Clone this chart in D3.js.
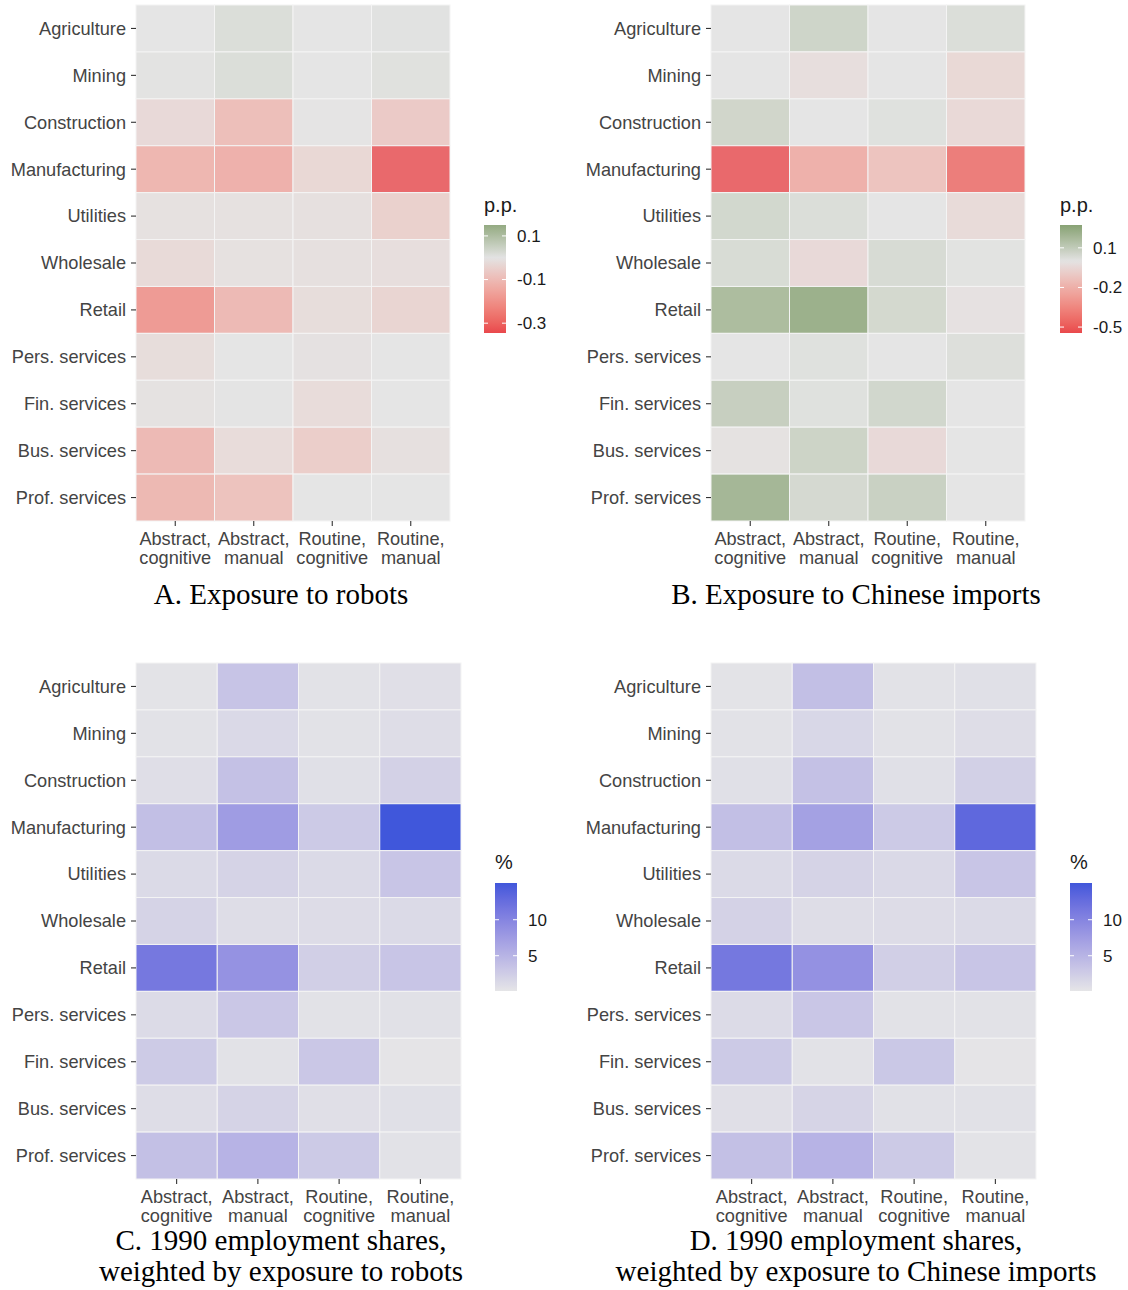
<!DOCTYPE html>
<html>
<head>
<meta charset="utf-8">
<script src="https://cdn.jsdelivr.net/npm/d3@7"></script>
<style>
  html, body { margin: 0; padding: 0; background: #ffffff; }
  svg { display: block; }
</style>
</head>
<body>
<svg id="chart" width="1128" height="1290"></svg>
<script>
// ---------------- DATA ----------------
const sectors = ["Agriculture", "Mining", "Construction", "Manufacturing", "Utilities",
  "Wholesale", "Retail", "Pers. services", "Fin. services", "Bus. services", "Prof. services"];
const tasks = ["Abstract, cognitive", "Abstract, manual", "Routine, cognitive", "Routine, manual"];
const taskLines = [["Abstract,", "cognitive"], ["Abstract,", "manual"], ["Routine,", "cognitive"], ["Routine,", "manual"]];

// A. Exposure to robots (p.p.), rows = sectors, columns = tasks
const robotsPP = [
  [0.000, 0.022, 0.000, 0.008],
  [0.004, 0.022, 0.000, 0.012],
  [-0.035, -0.115, -0.002, -0.080],
  [-0.140, -0.155, -0.040, -0.345],
  [-0.012, -0.012, -0.015, -0.062],
  [-0.033, -0.012, -0.015, -0.020],
  [-0.220, -0.130, -0.025, -0.050],
  [-0.025, 0.000, -0.010, 0.000],
  [-0.008, 0.002, -0.028, 0.000],
  [-0.130, -0.028, -0.070, -0.015],
  [-0.135, -0.104, 0.000, 0.000]
];
// B. Exposure to Chinese imports (p.p.)
const chinaPP = [
  [0.000, 0.083, 0.000, 0.035],
  [0.000, -0.030, 0.000, -0.060],
  [0.075, 0.000, 0.020, -0.057],
  [-0.545, -0.247, -0.160, -0.470],
  [0.067, 0.035, 0.000, -0.048],
  [0.047, -0.053, 0.050, 0.010],
  [0.210, 0.273, 0.063, -0.018],
  [0.000, 0.020, 0.000, 0.028],
  [0.110, 0.020, 0.070, 0.000],
  [-0.012, 0.087, -0.053, 0.000],
  [0.237, 0.060, 0.100, 0.000]
];
// C. 1990 employment shares, weighted by exposure to robots (%)
const robotsShare = [
  [0.3, 3.4, 0.4, 0.7],
  [0.4, 1.3, 0.4, 0.9],
  [0.8, 3.7, 0.6, 2.1],
  [3.9, 7.5, 2.8, 15.1],
  [1.2, 1.9, 1.2, 3.3],
  [1.9, 0.9, 1.0, 1.2],
  [11.3, 8.5, 2.3, 3.3],
  [1.1, 3.1, 0.4, 0.5],
  [2.7, 0.4, 3.1, 0.15],
  [0.9, 1.9, 0.7, 0.6],
  [3.8, 5.1, 2.8, 0.4]
];
// D. 1990 employment shares, weighted by exposure to Chinese imports (%)
const chinaShare = [
  [0.3, 3.9, 0.4, 0.6],
  [0.4, 1.5, 0.4, 0.9],
  [0.6, 3.7, 0.6, 2.2],
  [3.9, 7.0, 2.8, 13.1],
  [1.2, 1.9, 1.3, 3.3],
  [2.0, 0.9, 1.0, 1.2],
  [11.4, 8.6, 2.3, 3.3],
  [1.1, 3.2, 0.4, 0.4],
  [2.8, 0.4, 3.0, 0.15],
  [0.7, 1.8, 0.5, 0.5],
  [3.8, 5.1, 2.8, 0.3]
];

// Legend limits and breaks
const limitsRobotsPP = [-0.345, 0.15];
const limitsChinaPP = [-0.545, 0.273];
const limitsShare = [0.1, 15.1];
const ticksRobotsPP = [0.1, -0.1, -0.3];
const ticksChinaPP = [0.1, -0.2, -0.5];
const ticksShare = [5, 10];

const titleA = ["A. Exposure to robots"];
const titleB = ["B. Exposure to Chinese imports"];
const titleC = ["C. 1990 employment shares,", "weighted by exposure to robots"];
const titleD = ["D. 1990 employment shares,", "weighted by exposure to Chinese imports"];

// ---------------- COLOUR SCALES ----------------
const redLow = "#E9484C", greyMid = "#E3E3E3", greenHigh = d3.lab(37.3, -32.8, 50.6).formatHex();
function divScale(limits) {
  const m = Math.max(Math.abs(limits[0]), Math.abs(limits[1]));
  return d3.scaleLinear().domain([-m, 0, m]).range([redLow, greyMid, greenHigh])
    .interpolate(d3.interpolateLab).clamp(true);
}
function seqScale(limits) {
  return d3.scaleLinear().domain(limits).range(["#E5E5E7", "#4057DB"])
    .interpolate(d3.interpolateLab).clamp(true);
}

// ---------------- DRAW ----------------
const svg = d3.select("#chart");
const defs = svg.append("defs");
const FONT = "'Liberation Sans', Arial, Helvetica, sans-serif";
const SERIF = "'Liberation Serif', 'DejaVu Serif', serif";

const panels = [
  { id: "A", data: robotsPP, x0: 136, x1: 450, y0: 5, y1: 521, color: divScale(limitsRobotsPP), opacity: 0.8,
    limits: limitsRobotsPP, ticks: ticksRobotsPP, legTitle: "p.p.", legX: 484, legTitleY: 212, barY: 225,
    title: titleA, titleX: 281, titleY: 604 },
  { id: "B", data: chinaPP, x0: 711, x1: 1025, y0: 5, y1: 521, color: divScale(limitsChinaPP), opacity: 0.8,
    limits: limitsChinaPP, ticks: ticksChinaPP, legTitle: "p.p.", legX: 1060, legTitleY: 212, barY: 225,
    title: titleB, titleX: 856, titleY: 604 },
  { id: "C", data: robotsShare, x0: 136, x1: 461, y0: 663, y1: 1179, color: seqScale(limitsShare), opacity: 1,
    limits: limitsShare, ticks: ticksShare, legTitle: "%", legX: 495, legTitleY: 869, barY: 883,
    title: titleC, titleX: 281, titleY: 1250 },
  { id: "D", data: chinaShare, x0: 711, x1: 1036, y0: 663, y1: 1179, color: seqScale(limitsShare), opacity: 1,
    limits: limitsShare, ticks: ticksShare, legTitle: "%", legX: 1070, legTitleY: 869, barY: 883,
    title: titleD, titleX: 856, titleY: 1250 }
];

panels.forEach(p => {
  const g = svg.append("g");
  const x = d3.scaleBand().domain(tasks).range([p.x0, p.x1]).padding(0);
  const y = d3.scaleBand().domain(sectors).range([p.y0, p.y1]).padding(0);

  // panel background
  g.append("rect").attr("x", p.x0).attr("y", p.y0).attr("width", p.x1 - p.x0).attr("height", p.y1 - p.y0)
    .attr("fill", "#EBEBEB");

  const cells = [];
  p.data.forEach((row, i) => row.forEach((v, j) => cells.push({ s: sectors[i], t: tasks[j], v })));
  g.selectAll("rect.cell").data(cells).join("rect").attr("class", "cell")
    .attr("x", d => x(d.t)).attr("y", d => y(d.s))
    .attr("width", x.bandwidth()).attr("height", y.bandwidth())
    .attr("fill", d => p.color(d.v)).attr("fill-opacity", p.opacity)
    .attr("stroke", "#F4F4F4").attr("stroke-width", 1);

  // y axis
  const ya = g.append("g").attr("transform", `translate(${p.x0},0)`)
    .call(d3.axisLeft(y).tickSize(5).tickPadding(5));
  ya.select(".domain").remove();
  ya.selectAll(".tick line").attr("stroke", "#333333").attr("stroke-width", 1.1);
  ya.selectAll(".tick text").attr("fill", "#444444").style("font-family", FONT).style("font-size", "18.2px")
    .attr("dy", "0.35em");

  // x axis
  const xa = g.append("g").attr("transform", `translate(0,${p.y1})`)
    .call(d3.axisBottom(x).tickSize(5).tickFormat(""));
  xa.select(".domain").remove();
  xa.selectAll(".tick line").attr("stroke", "#333333").attr("stroke-width", 1.1);
  xa.selectAll(".tick").each(function (d, i) {
    const t = d3.select(this).append("text").attr("fill", "#444444").attr("text-anchor", "middle")
      .style("font-family", FONT).style("font-size", "18.2px");
    taskLines[i].forEach((ln, k) => t.append("tspan").attr("x", 0).attr("y", 24 + k * 19).text(ln));
  });

  // title
  const tt = g.append("text").attr("text-anchor", "middle").attr("fill", "#000")
    .style("font-family", SERIF).style("font-size", "29px");
  p.title.forEach((ln, k) => tt.append("tspan").attr("x", p.titleX).attr("y", p.titleY + k * 31).text(ln));

  // legend
  const barW = 22, barH = 108;
  const ls = d3.scaleLinear().domain([p.limits[1], p.limits[0]]).range([p.barY, p.barY + barH]);
  const gradId = "grad" + p.id;
  const grad = defs.append("linearGradient").attr("id", gradId).attr("x1", 0).attr("y1", 0).attr("x2", 0).attr("y2", 1);
  d3.range(0, 41).forEach(k => {
    const f = k / 40;
    const v = p.limits[1] + (p.limits[0] - p.limits[1]) * f;
    grad.append("stop").attr("offset", f).attr("stop-color", p.color(v));
  });
  g.append("text").attr("x", p.legX).attr("y", p.legTitleY).attr("fill", "#1A1A1A")
    .style("font-family", FONT).style("font-size", "20px").text(p.legTitle);
  g.append("rect").attr("x", p.legX).attr("y", p.barY).attr("width", barW).attr("height", barH)
    .attr("fill", `url(#${gradId})`);
  p.ticks.forEach(tv => {
    const yy = ls(tv);
    g.append("line").attr("x1", p.legX).attr("x2", p.legX + 4).attr("y1", yy).attr("y2", yy)
      .attr("stroke", "#ffffff").attr("stroke-width", 1);
    g.append("line").attr("x1", p.legX + barW - 4).attr("x2", p.legX + barW).attr("y1", yy).attr("y2", yy)
      .attr("stroke", "#ffffff").attr("stroke-width", 1);
    g.append("text").attr("x", p.legX + barW + 11).attr("y", yy).attr("dy", "0.35em").attr("fill", "#1A1A1A")
      .style("font-family", FONT).style("font-size", "17px").text(String(tv));
  });
});
</script>
</body>
</html>
